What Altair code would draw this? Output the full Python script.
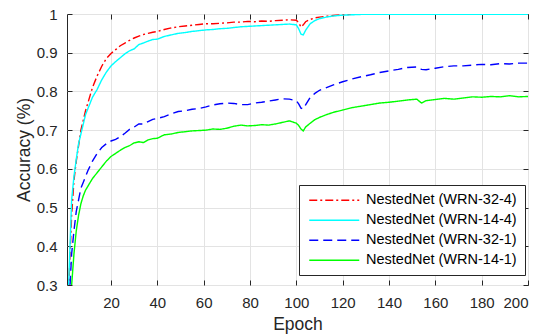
import altair as alt
import pandas as pd

epochs = [1, 2, 3, 4, 5, 6, 7, 8, 9, 10,
          12, 14, 16, 18, 20, 22, 24, 26, 28, 30, 32, 34, 36, 38, 40,
          43, 46, 49, 52, 55, 58, 61, 64, 67, 70, 73, 76, 79, 82, 85, 88, 91, 94, 97, 100,
          101, 102, 103, 104, 106, 108, 110, 113, 116,
          120, 124, 128, 132, 136, 140, 144, 148, 152, 154, 156,
          160, 164, 168, 172, 176, 180, 184, 188, 192, 196, 200]

wrn_32_4 = [0.20, 0.33, 0.48, 0.57, 0.62, 0.66, 0.70, 0.725, 0.75, 0.77,
            0.81, 0.84, 0.865, 0.885, 0.898, 0.908, 0.918, 0.925, 0.932, 0.938, 0.943, 0.947, 0.950, 0.953, 0.955,
            0.960, 0.964, 0.967, 0.969, 0.971, 0.973, 0.975, 0.975, 0.976, 0.977, 0.979, 0.979, 0.981, 0.980, 0.982, 0.981, 0.983, 0.984, 0.985, 0.984,
            0.978, 0.966, 0.972, 0.980, 0.986, 0.990, 0.992, 0.994, 0.996,
            0.998, 0.999, 0.999, 0.999, 0.999, 0.999, 0.999, 0.999, 0.999, 0.999, 0.999,
            0.999, 0.999, 0.999, 0.999, 0.999, 0.999, 0.999, 0.999, 0.999, 0.999, 0.999]

wrn_14_4 = [0.18, 0.35, 0.52, 0.58, 0.625, 0.665, 0.69, 0.715, 0.74, 0.755,
            0.785, 0.805, 0.83, 0.85, 0.866, 0.877, 0.887, 0.897, 0.905, 0.910, 0.921, 0.925, 0.930, 0.934, 0.935,
            0.942, 0.946, 0.950, 0.952, 0.955, 0.957, 0.959, 0.960, 0.962, 0.963, 0.965, 0.967, 0.968, 0.969, 0.970, 0.971, 0.972, 0.973, 0.974, 0.972,
            0.962, 0.948, 0.946, 0.958, 0.975, 0.983, 0.988, 0.992, 0.995,
            0.997, 0.998, 0.999, 0.999, 0.999, 0.999, 0.999, 0.999, 0.999, 0.999, 0.999,
            0.999, 0.999, 0.999, 0.999, 0.999, 0.999, 0.999, 0.999, 0.999, 0.999, 0.999]

wrn_32_1 = [0.12, 0.26, 0.38, 0.44, 0.49, 0.52, 0.55, 0.565, 0.58, 0.595,
            0.62, 0.64, 0.655, 0.665, 0.672, 0.676, 0.683, 0.692, 0.702, 0.708, 0.716, 0.716, 0.722, 0.728, 0.730,
            0.735, 0.742, 0.748, 0.750, 0.754, 0.756, 0.760, 0.765, 0.768, 0.770, 0.769, 0.766, 0.766, 0.770, 0.772, 0.775, 0.778, 0.781, 0.780, 0.776,
            0.768, 0.757, 0.755, 0.765, 0.785, 0.795, 0.803, 0.810, 0.817,
            0.825, 0.832, 0.838, 0.843, 0.849, 0.853, 0.857, 0.862, 0.863, 0.857, 0.856,
            0.860, 0.864, 0.866, 0.866, 0.868, 0.870, 0.869, 0.872, 0.871, 0.873, 0.873]

wrn_14_1 = [0.10, 0.22, 0.30, 0.38, 0.44, 0.48, 0.51, 0.53, 0.545, 0.555,
            0.575, 0.59, 0.605, 0.62, 0.632, 0.640, 0.648, 0.655, 0.660, 0.667, 0.670, 0.668, 0.675, 0.678, 0.679,
            0.688, 0.690, 0.694, 0.696, 0.698, 0.699, 0.700, 0.703, 0.702, 0.705, 0.710, 0.713, 0.711, 0.712, 0.714, 0.713, 0.716, 0.720, 0.724, 0.718,
            0.712, 0.703, 0.698, 0.708, 0.718, 0.727, 0.733, 0.740, 0.746,
            0.752, 0.758, 0.762, 0.766, 0.770, 0.772, 0.775, 0.778, 0.780, 0.770, 0.776,
            0.779, 0.782, 0.780, 0.783, 0.786, 0.785, 0.787, 0.786, 0.789, 0.786, 0.787]

series_names = ["NestedNet (WRN-32-4)", "NestedNet (WRN-14-4)",
                "NestedNet (WRN-32-1)", "NestedNet (WRN-14-1)"]
series_values = [wrn_32_4, wrn_14_4, wrn_32_1, wrn_14_1]
series_colors = ["#ff0000", "#00ffff", "#0000ff", "#00ff00"]
series_dashes = [[8, 3, 2, 3], [1, 0], [9, 5], [1, 0]]

x_ticks = [20, 40, 60, 80, 100, 120, 140, 160, 180, 200]
y_ticks = [0.3, 0.4, 0.5, 0.6, 0.7, 0.8, 0.9, 1.0]

rows = []
for order, (name, vals) in enumerate(zip(series_names, series_values)):
    for e, v in zip(epochs, vals):
        rows.append({"epoch": e, "acc": v, "series": name, "order": order})
df = pd.DataFrame(rows)

FONT = "Liberation Sans"
TXT = "#262626"

xscale = alt.Scale(domain=[1, 200], nice=False, zero=False)
yscale = alt.Scale(domain=[0.3, 1.0], nice=False, zero=False)

legend = alt.Legend(
    title=None, orient="none", legendX=232, legendY=171,
    strokeColor=TXT, fillColor="white", padding=8,
    labelFont=FONT, labelFontSize=14.5, labelColor="#000000",
    labelExpr="datum.label + '\u00a0\u00a0'",
    symbolType="M-1,0H9", symbolSize=100, symbolStrokeWidth=1.5,
    labelOffset=44.5, rowPadding=5,
)

base = alt.Chart(df)

lines = base.mark_line(strokeWidth=1.4, clip=True).encode(
    x=alt.X("epoch:Q", scale=xscale,
            axis=alt.Axis(title="Epoch", values=x_ticks, grid=True, ticks=False, domain=False,
                          labelPadding=10, titlePadding=5, orient="bottom")),
    y=alt.Y("acc:Q", scale=yscale,
            axis=alt.Axis(title="Accuracy (%)", values=y_ticks, format="~g", grid=True, ticks=False,
                          domain=False, labelPadding=10, titlePadding=3, orient="left")),
    color=alt.Color("series:N", scale=alt.Scale(domain=series_names, range=series_colors), legend=legend),
    strokeDash=alt.StrokeDash("series:N", scale=alt.Scale(domain=series_names, range=series_dashes), legend=legend),
    order=alt.Order("order:Q"),
)

tick_axis = dict(labels=False, title=None, grid=False, domain=False, ticks=True,
                 tickSize=5, tickColor=TXT, tickWidth=1, offset=-5)

ticks_bl = base.mark_line(strokeOpacity=0).encode(
    x=alt.X("epoch:Q", scale=xscale, axis=alt.Axis(values=x_ticks, orient="bottom", **tick_axis)),
    y=alt.Y("acc:Q", scale=yscale, axis=alt.Axis(values=y_ticks, orient="left", **tick_axis)),
    detail="series:N",
)
ticks_tr = base.mark_line(strokeOpacity=0).encode(
    x=alt.X("epoch:Q", scale=xscale, axis=alt.Axis(values=x_ticks, orient="top", **tick_axis)),
    y=alt.Y("acc:Q", scale=yscale, axis=alt.Axis(values=y_ticks, orient="right", **tick_axis)),
    detail="series:N",
)

chart = alt.layer(lines, ticks_bl, ticks_tr).resolve_axis(
    x="independent", y="independent"
).properties(
    width=461, height=271,
    autosize=alt.AutoSizeParams(type="none"),
    padding={"left": 59, "top": 6, "right": 8, "bottom": 50},
    background="white",
).configure_view(
    stroke=TXT, strokeWidth=1
).configure_axis(
    labelFont=FONT, labelFontSize=15, labelColor=TXT,
    titleFont=FONT, titleFontSize=17.5, titleFontWeight="normal", titleColor=TXT,
    gridColor="#e3e3e3", gridWidth=1,
)

chart.save("out.html", embed_options={"renderer": "svg", "actions": False})
